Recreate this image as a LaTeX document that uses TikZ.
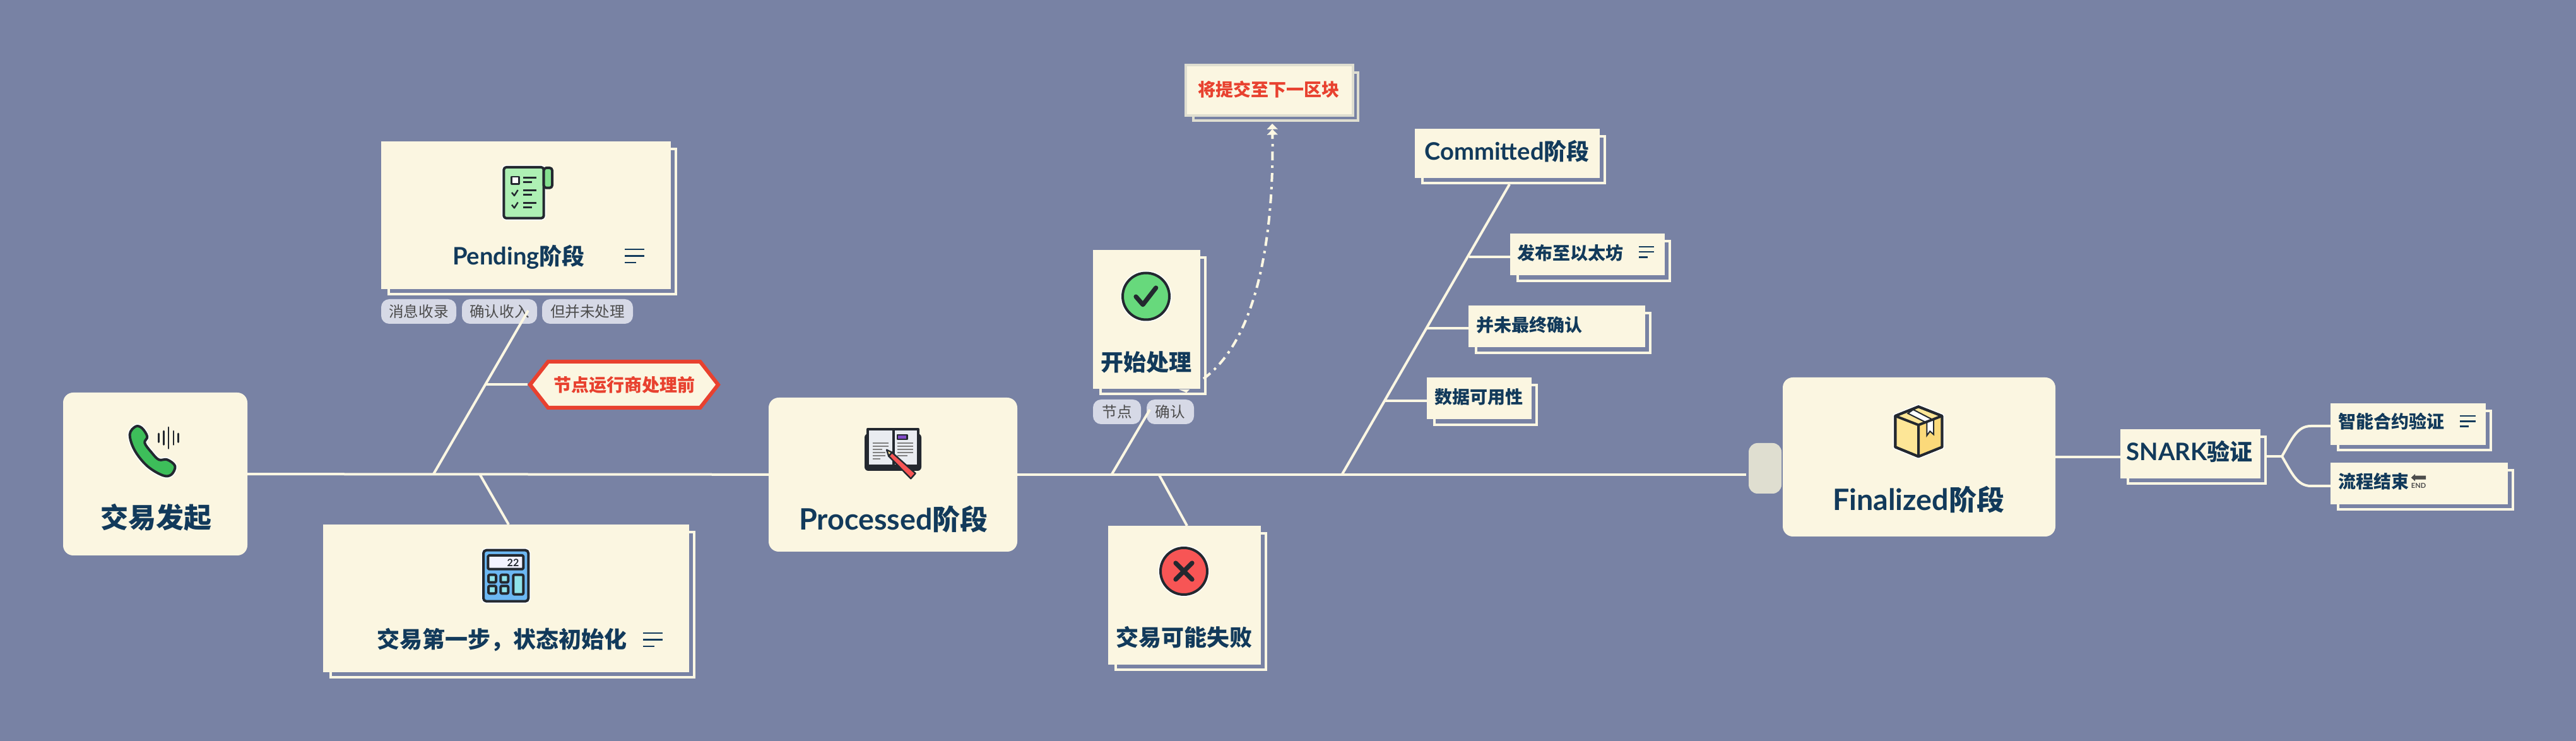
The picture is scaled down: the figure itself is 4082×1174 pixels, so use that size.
\documentclass[tikz,border=0pt]{standalone}
\usepackage{fontspec}
\setmainfont{Noto Sans CJK SC}
\newfontfamily\latinfont[Scale=1.06]{Lato}
\usetikzlibrary{arrows.meta,backgrounds,calc,shapes.symbols}
\definecolor{pagecol}{HTML}{7882A4}
\definecolor{cardcol}{HTML}{FBF6E1}
\definecolor{linecol}{HTML}{FCF7E3}
\definecolor{inkcol}{HTML}{123A5B}
\definecolor{redcol}{HTML}{E8412F}
\definecolor{greycol}{HTML}{DFDED0}
\definecolor{tagcol}{HTML}{D6D9E6}
\definecolor{iconcol}{HTML}{23282F}
\definecolor{phonecol}{HTML}{3DBE5A}
\definecolor{listcol}{HTML}{AEF0B4}
\definecolor{flapcol}{HTML}{84E08F}
\definecolor{calccol}{HTML}{6CB8F3}
\definecolor{keycol}{HTML}{8FE3EA}
\definecolor{okcol}{HTML}{67D97C}
\definecolor{failcol}{HTML}{F75555}
\definecolor{pagecover}{HTML}{E9ECF1}
\definecolor{boxlight}{HTML}{FDE697}
\definecolor{boxdark}{HTML}{FBD97A}
\newcommand{\lat}[1]{{\latinfont #1}}
\tikzset{
    boxsize/.style 2 args={minimum width=#1*0.25pt,minimum height=#2*0.25pt},
    plainbox/.style={rectangle,fill=cardcol,inner sep=0pt,outer sep=0pt},
    stagebox/.style={plainbox,rounded corners=4pt},
    tagbox/.style={rectangle,fill=tagcol,rounded corners=3.2pt,inner sep=0pt,outer sep=0pt,text=black!70,font=\fontsize{5.9pt}{7pt}\selectfont},
    stagetext/.style={inner sep=0pt,text=inkcol,font=\fontsize{11pt}{13pt}\selectfont\bfseries},
    cardtext/.style={inner sep=0pt,text=inkcol,font=\fontsize{9pt}{11pt}\selectfont\bfseries},
    subtext/.style={inner sep=0pt,text=inkcol,font=\fontsize{7pt}{9pt}\selectfont\bfseries},
    link/.style={draw=linecol,line width=1pt},
    shadowline/.style={draw=linecol,line width=0.9pt},
    iconline/.style={draw=iconcol,line width=1pt,line join=round},
    halo/.style={preaction={draw=white,line width=1.8pt}},
    menuline/.style={draw=inkcol,line width=0.65pt},
    menuicon/.pic={
        \draw[menuline] (0,0) -- (31,0);
        \draw[menuline] (0,10.5) -- (31,10.5);
        \draw[menuline] (0,21) -- (18,21);
    }
}
\begin{document}
\begin{tikzpicture}[x=0.25pt,y=-0.25pt]
    \node[stagebox,boxsize={292}{258}] (callbox) at (246,751) {};
    \node[stagetext] (calltext) at (247,820) {交易发起};
    \node[stagebox,boxsize={394}{244}] (procbox) at (1415,752) {};
    \node[stagetext] (proctext) at (1416,823) {\lat{Processed}阶段};
    \node[stagebox,boxsize={432}{252}] (finalbox) at (3041,724) {};
    \node[stagetext] (finaltext) at (3040,792) {\lat{Finalized}阶段};
    \node[plainbox,fill=greycol,rounded corners=3.5pt,boxsize={52}{80}] (capsule) at (2797,742) {};

    \node[plainbox,boxsize={459}{234}] (pendingbox) at (833.5,341) {};
    \node[cardtext] (pendingtext) at (822,407) {\lat{Pending}阶段};
    \pic (pendingmenu) at (990,395) {menuicon};
    \node[tagbox,boxsize={119}{39}] (tagone) at (663.5,493.5) {消息收录};
    \node[tagbox,boxsize={119}{39}] (tagtwo) at (791.5,493.5) {确认收入};
    \node[tagbox,boxsize={144}{39}] (tagthree) at (931,493.5) {但并未处理};
    \node[signal,signal to=east and west,signal pointer angle=104,draw=redcol,line width=1.5pt,fill=cardcol,inner sep=0pt,boxsize={298}{73},text=redcol,font=\fontsize{7pt}{9pt}\selectfont\bfseries] (nodehex) at (989,609.5) {节点运行商处理前};
    \node[plainbox,boxsize={580}{234}] (initbox) at (802,948) {};
    \node[cardtext] (inittext) at (795,1014) {交易第一步，状态初始化};
    \pic (initmenu) at (1019,1003) {menuicon};

    \node[plainbox,boxsize={170}{220}] (startbox) at (1817,506) {};
    \node[cardtext] (starttext) at (1816.5,574) {开始处理};
    \node[tagbox,boxsize={76}{39}] (tagnode) at (1770,652.5) {节点};
    \node[tagbox,boxsize={75}{39}] (tagack) at (1854.5,652.5) {确认};
    \node[plainbox,draw=greycol,line width=1pt,boxsize={265}{80}] (nextbox) at (2011.5,143) {};
    \node[subtext,text=redcol] (nexttext) at (2010.5,141.5) {将提交至下一区块};
    \node[plainbox,boxsize={242}{220}] (failbox) at (1877,943) {};
    \node[cardtext] (failtext) at (1876,1010) {交易可能失败};

    \node[plainbox,boxsize={293}{78}] (commitbox) at (2388.5,243) {};
    \node[cardtext] (committext) at (2388,240) {\lat{Committed}阶段};
    \node[plainbox,boxsize={245}{66}] (publishbox) at (2515.5,403.5) {};
    \node[subtext] (publishtext) at (2488.5,401) {发布至以太坊};
    \pic[scale=0.78] (publishmenu) at (2597,391) {menuicon};
    \node[plainbox,boxsize={280}{66}] (unfinalbox) at (2467,517.5) {};
    \node[subtext] (unfinaltext) at (2423,515) {并未最终确认};
    \node[plainbox,boxsize={166}{66}] (availbox) at (2344,631.5) {};
    \node[subtext] (availtext) at (2343.5,628.5) {数据可用性};

    \node[plainbox,boxsize={222}{78}] (snarkbox) at (3471,719) {};
    \node[cardtext] (snarktext) at (3469.5,715) {\lat{SNARK}验证};
    \node[plainbox,boxsize={246}{66}] (verifybox) at (3816,672) {};
    \node[subtext] (verifytext) at (3789.5,668) {智能合约验证};
    \pic[scale=0.8] (verifymenu) at (3898,659) {menuicon};
    \node[plainbox,boxsize={281}{66}] (endbox) at (3833.5,766) {};
    \node[subtext] (endtext) at (3761.5,763) {流程结束};

    \coordinate (pendingjoin) at (837,492);
    \coordinate (pendingfoot) at (687,751);
    \coordinate (hexfoot) at (770,609.5);
    \coordinate (initfoot) at (760,751);
    \coordinate (initjoin) at (806,831);
    \coordinate (startjoin) at (1822,649);
    \coordinate (startfoot) at (1762,751);
    \coordinate (failfoot) at (1836,751);
    \coordinate (failjoin) at (1881,833);
    \coordinate (commitfoot) at (2127,751);
    \coordinate (commitjoin) at (2392,292);
    \coordinate (publishfoot) at (2328,407);
    \coordinate (unfinalfoot) at (2261,520.5);
    \coordinate (availfoot) at (2194,635.5);
    \coordinate (snarkout) at (3592,723);
    \coordinate (fork) at (3616,723);
    \coordinate (curvestart) at (1907,600);
    \coordinate (curveend) at (2016,196);

    \draw[link] (callbox) -- (procbox);
    \draw[link,shorten >=1pt] (procbox.east) -- (procbox.east -| capsule.west);
    \draw[link] (pendingfoot) -- (pendingjoin);
    \draw[link] (hexfoot) -- (nodehex.west);
    \draw[link] (initfoot) -- (initjoin);
    \draw[link] (startfoot) -- (startjoin);
    \draw[link] (failfoot) -- (failjoin);
    \draw[link] (commitfoot) -- (commitjoin);
    \draw[link] (publishfoot) -- (publishfoot -| publishbox.west);
    \draw[link] (unfinalfoot) -- (unfinalfoot -| unfinalbox.west);
    \draw[link] (availfoot) -- (availfoot -| availbox.west);
    \draw[link] (finalbox.east) -- (finalbox.east -| snarkbox.west);
    \draw[link] (snarkout) -- (fork);
    \draw[link] (fork) .. controls (3632,695) and (3640,675) .. (3662,675) -- (3662,675 -| verifybox.west);
    \draw[link] (fork) .. controls (3632,750) and (3640,770) .. (3662,770) -- (3662,770 -| endbox.west);
    \draw[link,dash pattern=on 3.5pt off 2pt on 1pt off 2pt,-{Triangle[length=2.2pt,width=4.2pt]Triangle[length=2.2pt,width=4.2pt]}] (curvestart) .. controls (1990,540) and (2020,380) .. (curveend);
    \fill[linecol] (1868,617) -- (1880,622) -- (1885,617) -- cycle;

    \draw[iconline,halo,fill=phonecol] plot[smooth cycle,tension=0.6] coordinates {(205.7,688.3) (215,675.7) (225,678.3) (233.3,691.7) (229.3,701.7) (240,716.7) (251.7,728.3) (265,728.3) (277.3,738.3) (271.7,751.7) (258.3,753.3) (233.3,738.3) (213.3,713.3)};
    \draw[iconline,line cap=round,line width=0.7pt] (251.7,687) -- (251.7,700.5) (259.3,683) -- (259.3,704.5) (267,677) -- (267,710.5) (275,683) -- (275,704.5) (282.7,687) -- (282.7,700.5);

    \draw[iconline,halo,fill=listcol,rounded corners=1pt] (798.3,265) rectangle (861.7,345.7);
    \draw[iconline,fill=flapcol,rounded corners=1pt] (861.7,266) rectangle (875,297.7);
    \draw[iconline,fill=white,line width=0.7pt] (810.7,280) rectangle (822.3,291.7);
    \foreach \listy in {0,20,40} {
        \draw[iconline,line width=0.6pt] (829,281.7+\listy) -- (850,281.7+\listy) (829,288.5+\listy) -- (843.3,288.5+\listy);
    }
    \foreach \listy in {0,19.5} {
        \draw[iconline,line width=0.6pt] (811,305+\listy) -- (815,310+\listy) -- (820.7,301+\listy);
    }

    \draw[iconline,halo,fill=calccol,rounded corners=1.2pt] (766,871.7) rectangle (837.3,952.7);
    \draw[iconline,fill=blue!5!white,rounded corners=0.4pt] (773.3,880) rectangle (829.3,901.7);
    \node[inner sep=0pt,text=iconcol,font=\fontsize{3.8pt}{4pt}\selectfont\latinfont\bfseries] (calcnum) at (813,892) {22};
    \foreach \keyx in {774,793.3} {
        \foreach \keyy in {910.7,928.3} {
            \draw[iconline,fill=keycol,rounded corners=0.5pt] (\keyx,\keyy) rectangle (\keyx+12,\keyy+12);
        }
    }
    \draw[iconline,fill=keycol,rounded corners=0.5pt] (813.3,910.7) rectangle (829.3,941.7);

    \fill[iconcol,rounded corners=1.5pt] (1370,687) rectangle (1460,746);
    \draw[iconline,fill=pagecover] (1375,680) rectangle (1415.5,738);
    \draw[iconline,fill=pagecover] (1415.5,680) rectangle (1455,738);
    \foreach \pagey/\pageend in {701.7/1408,706.7/1408,711.7/1398,716.7/1403,722.3/1403,727.3/1395} {
        \draw[gray,line width=0.45pt] (1382.7,\pagey) -- (\pageend,\pagey);
    }
    \foreach \pagey/\pageend in {701.7/1447,706.7/1447,711.7/1447,716.7/1447,722.3/1438} {
        \draw[gray,line width=0.45pt] (1421.7,\pagey) -- (\pageend,\pagey);
    }
    \draw[iconline,line width=0.6pt,fill=violet!60!blue!70!white] (1421.7,689.3) rectangle (1437.3,696);
    \draw[iconline,line width=0.6pt,fill=failcol,line cap=round] (1413.3,716.7) -- (1450.7,750) -- (1443.3,758.3) -- (1408.3,722.7) -- cycle;
    \draw[iconline,line width=0.6pt,fill=boxlight] (1405,712.7) -- (1413.3,716.7) -- (1408.3,722.7) -- cycle;

    \draw[iconline,halo,fill=okcol] (1816,469.5) circle (37);
    \draw[iconline,line width=1.8pt,line cap=round] (1800,470) -- (1811,482.7) -- (1831.7,456);
    \draw[iconline,halo,fill=failcol] (1876,905) circle (37);
    \draw[iconline,line width=1.8pt,line cap=round] (1863,892) -- (1889,918) (1889,892) -- (1863,918);

    \draw[iconline,halo,fill=boxlight] (3040,644.3) -- (3077.3,659) -- (3077.3,708.3) -- (3040,723.3) -- (3003.3,708.3) -- (3003.3,659) -- cycle;
    \fill[boxdark] (3040,673.3) -- (3077.3,659) -- (3077.3,708.3) -- (3040,723.3) -- cycle;
    \draw[draw=iconcol,line width=0.5pt,fill=white] (3031.7,649) -- (3064,665.7) -- (3064,688.3) -- (3058.3,683.3) -- (3053.3,690) -- (3053.3,670) -- (3023.3,655) -- cycle;
    \draw[iconline] (3003.3,659) -- (3040,673.3) -- (3077.3,659) (3040,673.3) -- (3040,723.3);
    \draw[iconline,fill=none] (3040,644.3) -- (3077.3,659) -- (3077.3,708.3) -- (3040,723.3) -- (3003.3,708.3) -- (3003.3,659) -- cycle;

    \fill[black!70] (3820.7,756.7) -- (3827,751) -- (3827,753.7) -- (3844,753.7) -- (3844,759.7) -- (3827,759.7) -- (3827,762.5) -- cycle;
    \node[inner sep=0pt,text=black!70,font=\fontsize{2.6pt}{3pt}\selectfont\latinfont\bfseries] (endlabel) at (3832.5,770) {END};

    \begin{scope}[on background layer]
        \fill[pagecol] (0,0) rectangle (4082,1174);
        \foreach \boxname in {pendingbox,initbox,startbox,failbox,commitbox,publishbox,unfinalbox,availbox,snarkbox,verifybox,endbox} {
            \draw[shadowline] ($(\boxname.north west)+(11.75,11.75)$) rectangle ($(\boxname.south east)+(8.25,8.25)$);
        }
        \draw[shadowline,draw=greycol] ($(nextbox.north west)+(11.75,11.75)$) rectangle ($(nextbox.south east)+(8.25,8.25)$);
    \end{scope}
\end{tikzpicture}
\end{document}
